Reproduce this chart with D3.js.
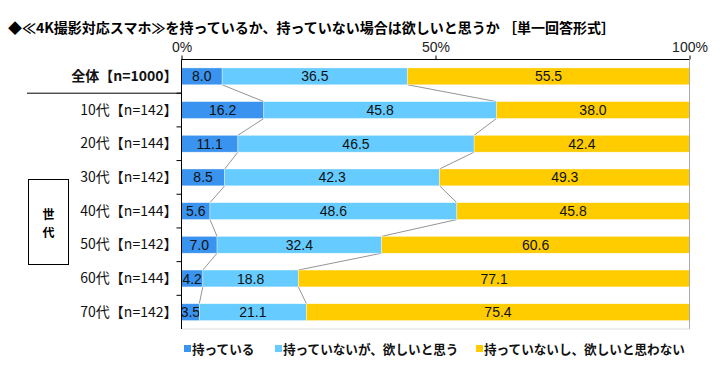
<!DOCTYPE html>
<html>
<head>
<meta charset="utf-8">
<script src="https://cdn.jsdelivr.net/npm/d3@7"></script>
<style>
  body { margin: 0; background: #fff; }
  text { font-family: "Liberation Sans", "Noto Sans CJK JP", sans-serif; }
  .jp { font-family: "Noto Sans CJK JP", sans-serif; }
</style>
</head>
<body>
<div class="chart"></div>
<script>
const categories = ["全体【n=1000】", "10代【n=142】", "20代【n=144】", "30代【n=142】",
                    "40代【n=144】", "50代【n=142】", "60代【n=144】", "70代【n=142】"];
const seriesNames = ["持っている", "持っていないが、欲しいと思う", "持っていないし、欲しいと思わない"];
const own     = [8.0, 16.2, 11.1, 8.5, 5.6, 7.0, 4.2, 3.5];
const want    = [36.5, 45.8, 46.5, 42.3, 48.6, 32.4, 18.8, 21.1];
const notWant = [55.5, 38.0, 42.4, 49.3, 45.8, 60.6, 77.1, 75.4];
const tickLabels = ["0%", "50%", "100%"];
const title = "◆≪4K撮影対応スマホ≫を持っているか、持っていない場合は欲しいと思うか ［単一回答形式］";

const width = 723, height = 373;
const colors = d3.scaleOrdinal().domain(seriesNames).range(["#3a93ee", "#66ccff", "#ffcc00"]);

const svg = d3.select(".chart").append("svg")
    .attr("width", width)
    .attr("height", height);

const rows = categories.map((c, i) => ({cat: c, vals: [own[i], want[i], notWant[i]]}));
const stack = d3.stack().keys([0, 1, 2]).value((d, k) => d.vals[k]);
const series = stack(rows);

const x = d3.scaleLinear().domain([0, 100]).range([181.5, 689.5]);
const y = d3.scaleBand().domain(categories).range([59.5, 329]).paddingInner(0.5).paddingOuter(0.25);

// title
svg.append("text")
    .attr("class", "jp")
    .attr("x", 8).attr("y", 33)
    .attr("font-size", "14px")
    .attr("font-weight", "bold")
    .text(title);

// connector lines between consecutive bars
for (let k = 0; k < 2; k++) {
  for (let i = 0; i < categories.length - 1; i++) {
    svg.append("line")
        .attr("x1", x(series[k][i][1]))
        .attr("y1", y(categories[i]) + y.bandwidth())
        .attr("x2", x(series[k][i + 1][1]))
        .attr("y2", y(categories[i + 1]))
        .attr("stroke", "#666")
        .attr("stroke-width", 0.7);
  }
}

// bars
const groups = svg.selectAll("g.series")
    .data(series)
    .enter().append("g")
    .attr("class", "series")
    .attr("fill", d => colors(seriesNames[d.key]));

groups.selectAll("rect")
    .data(d => d)
    .enter().append("rect")
    .attr("x", d => x(d[0]))
    .attr("y", d => y(d.data.cat))
    .attr("width", d => x(d[1]) - x(d[0]))
    .attr("height", y.bandwidth())
    .attr("stroke", "#fff")
    .attr("stroke-opacity", 0.6)
    .attr("stroke-width", 0.6);

groups.selectAll("text")
    .data(d => d)
    .enter().append("text")
    .attr("x", d => (x(d[0]) + x(d[1])) / 2)
    .attr("y", d => y(d.data.cat) + y.bandwidth() / 2)
    .attr("dy", "0.36em")
    .attr("text-anchor", "middle")
    .attr("font-size", "14px")
    .attr("fill", "#111")
    .text(d => (d[1] - d[0]).toFixed(1));

// top axis
const xAxis = d3.axisTop(x).tickValues([0, 50, 100]).tickFormat((d, i) => tickLabels[i]).tickSize(4).tickPadding(4);
svg.append("g")
    .attr("transform", `translate(0, ${y.range()[0]})`)
    .call(xAxis)
    .call(g => g.select(".domain").attr("d", `M${x(0)},0H${x(100)}`))
    .call(g => g.selectAll("text").attr("font-size", "14px").attr("fill", "#222"));

// right border and bottom line
svg.append("line")
    .attr("x1", x(100)).attr("x2", x(100))
    .attr("y1", y.range()[0]).attr("y2", y.range()[1])
    .attr("stroke", "#aaa");
svg.append("line")
    .attr("x1", x(0)).attr("x2", x(100))
    .attr("y1", y.range()[1]).attr("y2", y.range()[1])
    .attr("stroke", "#ddd");

// left axis with ticks at row boundaries
const yAxis = d3.axisLeft(y).tickSize(0).tickPadding(4).tickFormat(d => d);
const leftAxis = svg.append("g")
    .attr("transform", `translate(${x(0)}, 0)`)
    .call(yAxis);
leftAxis.select(".domain").attr("d", `M0,${y.range()[0]}V${y.range()[1]}`);
leftAxis.selectAll("text")
    .attr("class", "jp")
    .attr("font-size", "14px")
    .attr("fill", "#111");
leftAxis.selectAll(".tick").filter((d, i) => i === 0).select("text").attr("font-weight", "bold");

categories.slice(1).forEach(c => {
  const yy = y(c) - y.step() * y.paddingInner() / 2;
  svg.append("line")
      .attr("x1", x(0) - 5).attr("x2", x(0))
      .attr("y1", yy).attr("y2", yy)
      .attr("stroke", "#000");
});

// separator under 全体
const sepY = y(categories[1]) - y.step() * y.paddingInner() / 2;
svg.append("line")
    .attr("x1", 27).attr("x2", x(0))
    .attr("y1", sepY).attr("y2", sepY)
    .attr("stroke", "#000");

// group box
svg.append("rect")
    .attr("x", 28.5).attr("y", 179.5)
    .attr("width", 40).attr("height", 85)
    .attr("fill", "none")
    .attr("stroke", "#000");
svg.append("text").attr("class", "jp")
    .attr("x", 48.5).attr("y", 219).attr("text-anchor", "middle")
    .attr("font-size", "12px").attr("font-weight", "bold").text("世");
svg.append("text").attr("class", "jp")
    .attr("x", 48.5).attr("y", 237).attr("text-anchor", "middle")
    .attr("font-size", "12px").attr("font-weight", "bold").text("代");

// legend
const legendX = [184, 275, 476];
const legend = svg.selectAll("g.legend")
    .data(seriesNames)
    .enter().append("g")
    .attr("class", "legend")
    .attr("transform", (d, i) => `translate(${legendX[i]}, 349)`);
legend.append("rect")
    .attr("x", 0).attr("y", -4)
    .attr("width", 7).attr("height", 7)
    .attr("fill", d => colors(d));
legend.append("text")
    .attr("class", "jp")
    .attr("x", 8).attr("dy", "0.36em")
    .attr("font-size", "12.6px")
    .attr("font-weight", "bold")
    .attr("fill", "#111")
    .text(d => d);
</script>
</body>
</html>
